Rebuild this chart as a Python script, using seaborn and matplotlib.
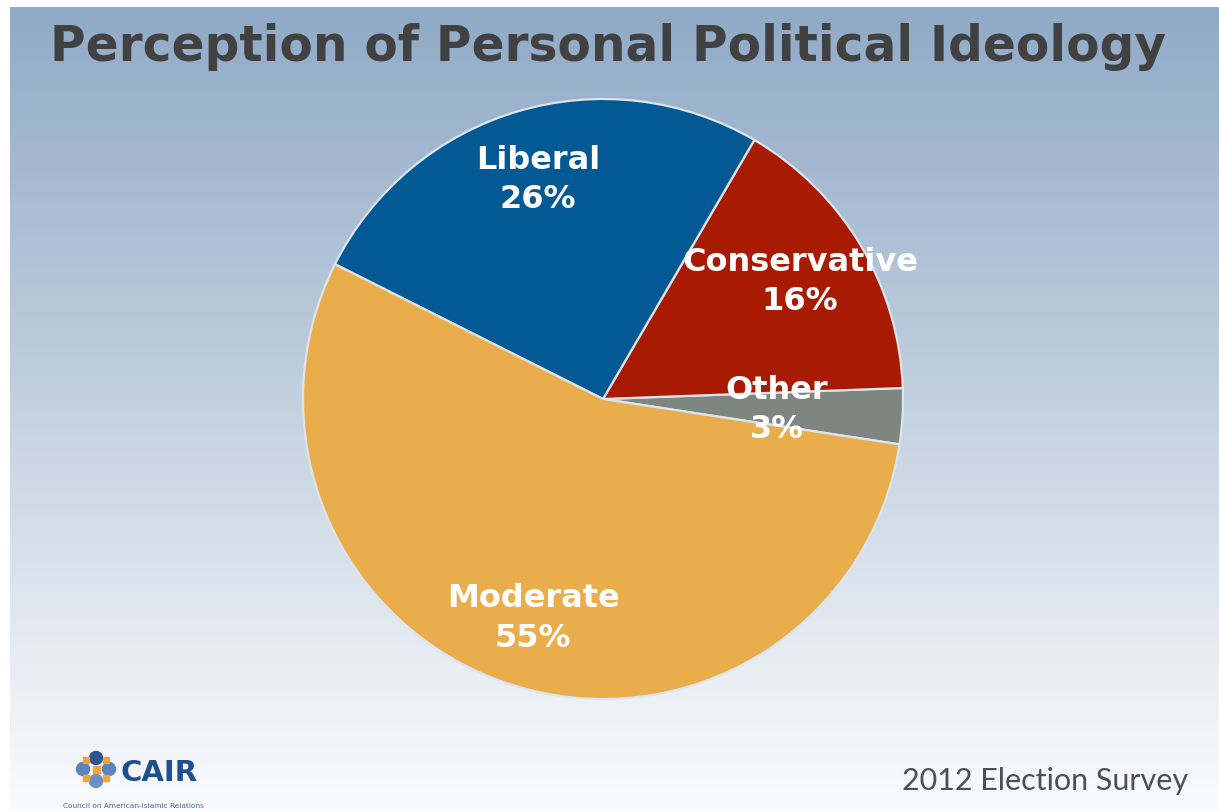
import numpy as np
import matplotlib
matplotlib.use("Agg")
import matplotlib.pyplot as plt
from matplotlib.patches import Circle, Rectangle
import seaborn as sns

# Survey shares, listed counter-clockwise from the small grey slice
categories = ["Other", "Conservative", "Liberal", "Moderate"]
shares = [3, 16, 26, 55]
slice_colors = ["#7e8682", "#a81b02", "#025993", "#eaad4b"]

title_text = "Perception of Personal Political Ideology"
footer_text = "2012 Election Survey"
org_name = "CAIR"
org_full = "Council on American-Islamic Relations"

sns.set_theme(style="white")
plt.rcParams["font.family"] = ["DejaVu Sans"]
palette = sns.color_palette(slice_colors)

W, H = 1219, 812
fig = plt.figure(figsize=(W / 100, H / 100), dpi=100)
fig.patch.set_facecolor("white")

# slide background: blue-grey fading to white
bg = fig.add_axes([0, 0, 1, 1])
bg.set_xlim(0, W)
bg.set_ylim(H, 0)
bg.axis("off")
stops_y = np.array([8, 400, 700, 812])
stops_c = np.array([[144, 170, 199], [194, 208, 223], [236, 241, 246], [250, 251, 253]]) / 255
ys = np.arange(8, H)
grad = np.stack([np.interp(ys, stops_y, stops_c[:, k]) for k in range(3)], axis=-1)
grad = np.repeat(grad[:, None, :], 2, axis=1)
bg.imshow(grad, extent=[10, W, H, 8], aspect="auto", interpolation="bilinear", zorder=0)

# title
bg.text(50, 61, title_text, fontsize=35, fontweight="bold", color="#414141",
        ha="left", va="baseline", zorder=3)

# footer
bg.text(1188, 790, footer_text, fontsize=22, fontweight="normal", color="#505050",
        family=["Lato", "DejaVu Sans"], ha="right", va="baseline", zorder=3)

# organisation mark
cx, cy = 96, 770
for (dx, dy), col in zip([(0, -11), (-13, 0), (13, 0), (0, 12)],
                         ["#2a5794", "#5b84bd", "#5b84bd", "#6a90c4"]):
    bg.add_patch(Circle((cx + dx, cy + dy), 6.5, color=col, zorder=3))
for dx, dy in [(-10, -9), (10, -9), (-10, 9), (10, 9)]:
    bg.add_patch(Rectangle((cx + dx - 3, cy + dy - 3), 6, 6, color="#f0a43a", zorder=4))
bg.add_patch(Rectangle((cx - 3.5, cy - 3.5), 7, 7, color="#f0a43a", zorder=4))
bg.text(121, 781, org_name, fontsize=21, fontweight="bold", color="#1d4f91",
        ha="left", va="baseline", zorder=3)
bg.text(133, 806, org_full, fontsize=5.3, color="#44679a",
        ha="center", va="center", zorder=3)

# pie
pie_ax = fig.add_axes([303 / W, (H - 700) / H, 600 / W, 600 / H])
wedges, _ = pie_ax.pie(shares, colors=palette, startangle=-8.7, counterclock=True,
                       wedgeprops=dict(edgecolor="#dde4eb", linewidth=1.6))
pie_ax.set_xlim(-1, 1)
pie_ax.set_ylim(-1, 1)
pie_ax.set_aspect("equal")
pie_ax.axis("off")

for w, name, v in zip(wedges, categories, shares):
    mid = np.deg2rad((w.theta1 + w.theta2) / 2)
    r = 0.58 if name == "Other" else 0.765
    pie_ax.text(r * np.cos(mid), r * np.sin(mid), f"{name}\n{v}%",
                fontsize=23, fontweight="bold", color="white",
                ha="center", va="center", linespacing=1.35, multialignment="center")

fig.savefig("out.png", dpi=100, facecolor=fig.get_facecolor())
